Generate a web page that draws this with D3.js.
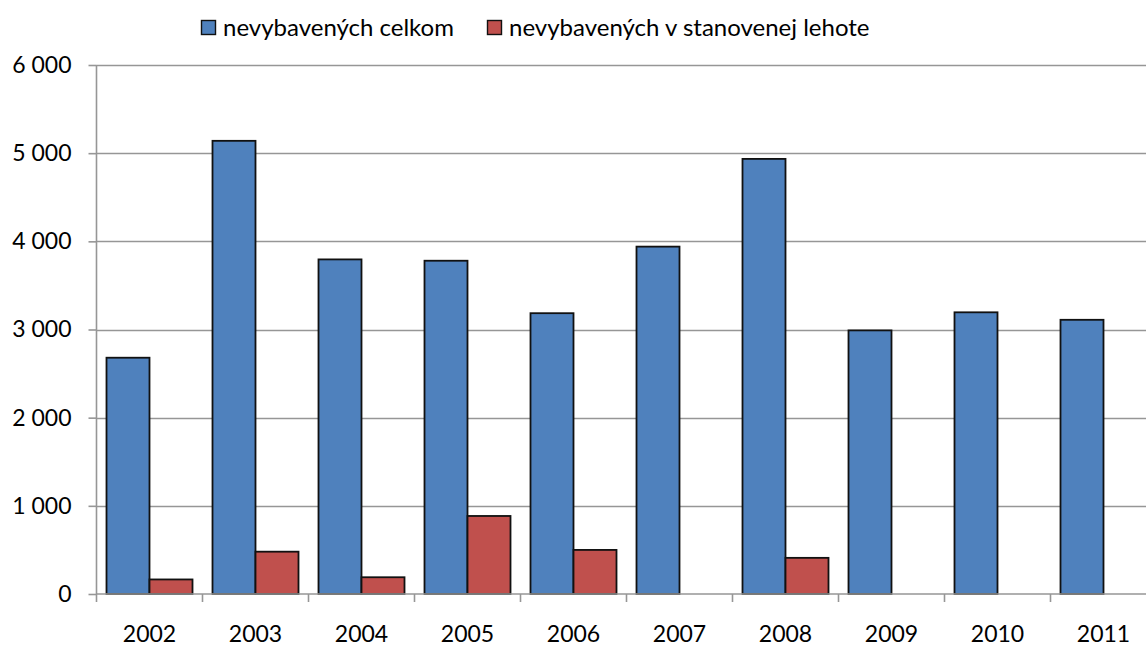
<!DOCTYPE html>
<html>
<head>
<meta charset="utf-8">
<script src="https://cdn.jsdelivr.net/npm/d3@7"></script>
<style>
    body { margin: 0; background: #fff; }
    svg { display: block; font-family: Lato, "Open Sans", sans-serif; }
</style>
</head>
<body>
<div class="myChart"></div>
<script>
// data
const years = ["2002", "2003", "2004", "2005", "2006", "2007", "2008", "2009", "2010", "2011"];
const seriesNames = ["nevybavených celkom", "nevybavených v stanovenej lehote"];
const celkom = [2680, 5140, 3795, 3780, 3185, 3940, 4935, 2990, 3195, 3110];
const vLehote = [165, 480, 190, 885, 500, 0, 410, 0, 0, 0];
const yTicks = [0, 1000, 2000, 3000, 4000, 5000, 6000];
const colors = ["#4F81BD", "#C0504D"];

const width = 1146, height = 645;
const margin = {top: 65, right: -10.5, bottom: 51, left: 96.5};

var svg = d3.select(".myChart").append("svg").attr("width", width).attr("height", height);

var x = d3.scaleBand().domain(years)
    .range([margin.left, width - margin.right])
    .paddingInner(20 / 106).paddingOuter(10 / 106);
var xs = d3.scaleBand().domain(seriesNames).range([0, x.bandwidth()]);
var y = d3.scaleLinear().domain([0, 6000]).range([height - margin.bottom, margin.top]);

const fmt = v => d3.format(",")(v).replace(/,/g, " ");

// gridlines
svg.append("g")
    .selectAll("line")
    .data(yTicks.filter(d => d > 0))
    .enter().append("line")
    .attr("x1", margin.left).attr("x2", width)
    .attr("y1", d => Math.round(y(d)) + 0.5).attr("y2", d => Math.round(y(d)) + 0.5)
    .attr("stroke", "#969696").attr("stroke-width", 1.6);

// y axis
var yAxis = svg.append("g")
    .attr("transform", "translate(" + margin.left + ",0)")
    .call(d3.axisLeft(y).tickValues(yTicks).tickFormat(fmt).tickSize(8).tickPadding(17));
yAxis.selectAll("line, path").attr("stroke", "#969696").attr("stroke-width", 1.6);
yAxis.select(".domain").attr("d", "M0," + y(6000) + "V" + y(0));
yAxis.selectAll("text").attr("font-size", 23).attr("fill", "#000").attr("font-family", "Lato");

// bars
var groups = svg.append("g").selectAll("g")
    .data(years.map((yr, i) => ({year: yr, values: [celkom[i], vLehote[i]]})))
    .enter().append("g")
    .attr("transform", d => "translate(" + x(d.year) + ",0)");

groups.selectAll("rect")
    .data(d => d.values.map((v, j) => ({name: seriesNames[j], value: v, j: j})).filter(d => d.value > 0))
    .enter().append("rect")
    .attr("x", d => xs(d.name))
    .attr("y", d => y(d.value))
    .attr("width", xs.bandwidth())
    .attr("height", d => y(0) - y(d.value))
    .attr("fill", d => colors[d.j])
    .attr("stroke", "#111")
    .attr("stroke-width", 1.8);

// x axis
var xAxis = svg.append("g")
    .attr("transform", "translate(0," + y(0) + ")");
xAxis.append("line")
    .attr("x1", margin.left).attr("x2", width)
    .attr("stroke", "#969696").attr("stroke-width", 1.6);
xAxis.selectAll(".tick")
    .data(years)
    .enter().append("line")
    .attr("x1", d => x(d) - 10 * x.step() / 106).attr("x2", d => x(d) - 10 * x.step() / 106)
    .attr("y1", 0).attr("y2", 8)
    .attr("stroke", "#969696").attr("stroke-width", 1.6);
xAxis.selectAll("text")
    .data(years)
    .enter().append("text")
    .attr("x", d => x(d) + x.bandwidth() / 2)
    .attr("y", 48)
    .attr("text-anchor", "middle")
    .attr("font-size", 23)
    .attr("fill", "#000")
    .text(d => d);

// legend
var legend = svg.append("g").attr("transform", "translate(201,20)");
var lx = [0, 286];
seriesNames.forEach((name, i) => {
    var item = legend.append("g").attr("transform", "translate(" + lx[i] + ",0)");
    item.append("rect")
        .attr("x", 0.5).attr("y", 0.5).attr("width", 14).attr("height", 14)
        .attr("fill", colors[i]).attr("stroke", "#111").attr("stroke-width", 1.4);
    item.append("text")
        .attr("x", 22).attr("y", 16)
        .attr("font-size", 24)
        .attr("fill", "#000")
        .text(name);
});
</script>
</body>
</html>
